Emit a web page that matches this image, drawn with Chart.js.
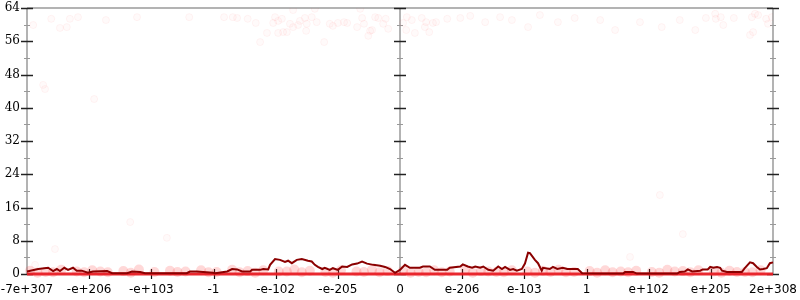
<!DOCTYPE html>
<html>
<head>
<meta charset="utf-8">
<script src="https://cdn.jsdelivr.net/npm/chart.js@4"></script>
<style>
  body { margin: 0; background: #fff; }
</style>
</head>
<body>
<canvas id="chart" width="800" height="300"></canvas>
<script>
// x positions are in "tick units": -6 .. 6, one unit per labelled tick
const xTickLabels = ['-7e+307', '-e+206', '-e+103', '-1', '-e-102', '-e-205', '0',
  'e-206', 'e-103', '1', 'e+102', 'e+205', '2e+308'];

// dark red running line
const lineX = [-6.00, -5.82, -5.66, -5.58, -5.52, -5.47, -5.40, -5.34, -5.26, -5.20, -5.12, -5.02,
  -4.94, -4.71, -4.63, -4.39, -4.31, -4.18, -4.10, -3.43, -3.38, -3.27, -3.01, -2.97, -2.78,
  -2.70, -2.62, -2.54, -2.41, -2.38, -2.25, -2.20, -2.12, -2.09, -2.01, -1.93, -1.85, -1.80,
  -1.74, -1.66, -1.58, -1.48, -1.42, -1.37, -1.32, -1.25, -1.21, -1.13, -1.08, -1.00, -0.93,
  -0.85, -0.77, -0.69, -0.61, -0.53, -0.43, -0.32, -0.24, -0.16, -0.08, 0.00, 0.08, 0.16,
  0.32, 0.37, 0.48, 0.56, 0.76, 0.80, 0.97, 1.01, 1.09, 1.16, 1.21, 1.29, 1.34, 1.42, 1.50,
  1.58, 1.64, 1.69, 1.77, 1.82, 1.88, 1.96, 2.01, 2.06, 2.09, 2.17, 2.22, 2.28, 2.30, 2.41,
  2.46, 2.53, 2.62, 2.69, 2.86, 2.93, 3.22, 3.59, 3.62, 3.75, 3.81, 4.46, 4.50, 4.58, 4.63,
  4.70, 4.83, 4.87, 4.95, 4.99, 5.04, 5.10, 5.15, 5.18, 5.26, 5.50, 5.55, 5.63, 5.68, 5.74,
  5.79, 5.84, 5.90, 5.95, 6.00];
const lineY = [0.6, 1.2, 1.5, 0.7, 1.2, 0.7, 1.5, 1.0, 1.5, 0.8, 0.8, 0.3,
  0.6, 0.7, 0.2, 0.2, 0.6, 0.5, 0.2, 0.2, 0.6, 0.6, 0.3, 0.2, 0.6,
  1.2, 1.1, 0.6, 0.6, 1.0, 1.0, 1.2, 1.1, 2.2, 3.6, 3.4, 2.9, 3.2,
  2.6, 3.4, 3.6, 3.2, 3.0, 2.2, 1.7, 1.2, 1.5, 1.0, 1.4, 1.0, 1.8,
  1.7, 2.3, 2.5, 3.0, 2.5, 2.2, 2.0, 1.7, 1.2, 0.3, 1.0, 2.2, 1.5,
  1.5, 1.8, 1.8, 1.0, 1.0, 1.5, 1.8, 2.3, 1.8, 1.5, 1.8, 1.5, 1.8, 1.0, 0.8,
  1.8, 1.2, 1.7, 1.0, 1.2, 0.8, 1.2, 2.5, 5.1, 5.0, 3.4, 2.6, 0.8, 1.5, 1.2,
  1.7, 1.2, 1.5, 1.2, 1.2, 0.2, 0.1, 0.1, 0.5, 0.5, 0.1, 0.1, 0.5, 0.6, 1.1,
  0.6, 0.8, 1.1, 1.1, 1.7, 1.5, 1.7, 1.5, 0.8, 0.5, 0.5, 1.5, 2.8, 2.6, 1.7,
  1.1, 1.2, 1.4, 2.6, 2.8];

// bright red floor line
const floorX = [-6, 6];
const floorY = [0, 0];

// faint sample points
const sampleX = [-5.90, -5.61, -5.47, -5.36, -5.31, -5.18, -4.73, -4.23, -3.39, -5.74, -5.71, -4.92,
  -2.83, -2.69, -2.62, -2.45, -2.32, -2.14, -2.04, -2.01, -1.96, -1.90, -1.96, -1.88, -1.82,
  -1.77, -1.72, -1.72, -1.64, -1.61, -1.53, -1.51, -1.50, -1.42, -1.37, -1.34, -2.25, -1.22,
  -1.13, -1.08, -1.00, -0.90, -0.85, -0.69, -0.64, -0.61, -0.58, -0.48, -0.45, -0.51, -0.40,
  -0.35, -0.27, -0.23, -0.19, 0.05, 0.11, 0.19, 0.10, 0.24, 0.35, 0.42, 0.40, 0.47, 0.53,
  0.58, 0.76, 0.97, 1.13, 1.37, 1.61, 1.80, 2.06, 2.25, 2.54, 2.81, 3.22, 3.46, 3.86, 4.21,
  4.50, 4.75, 4.92, 5.07, 5.08, 5.16, 5.20, 5.37, 5.66, 5.71, 5.76, 5.68, 5.63, 5.89, 5.92,
  5.98, -5.55, -4.34, -3.75, -5.87, 4.55, 3.70, 4.18];
const sampleY = [59.9, 61.4, 59.2, 59.4, 61.4, 61.8, 61.1, 61.8, 61.8, 45.5, 44.5, 42.1,
  61.8, 61.8, 61.6, 61.4, 60.4, 58.0, 60.4, 61.8, 60.9, 61.4, 58.0, 58.2, 58.2,
  60.2, 63.5, 59.4, 59.9, 60.9, 61.6, 58.5, 60.2, 61.8, 63.8, 60.6, 55.8, 55.8,
  60.2, 59.7, 60.4, 60.6, 60.4, 59.4, 63.8, 61.6, 60.2, 58.5, 58.7, 57.3, 61.8,
  61.6, 60.2, 61.4, 59.0, 60.4, 61.8, 61.1, 58.7, 58.0, 61.6, 60.6, 59.4, 58.2, 60.4,
  60.6, 61.4, 61.6, 62.1, 60.6, 61.8, 61.1, 59.4, 62.3, 60.6, 61.6, 61.1, 58.7, 60.6, 59.4,
  61.1, 58.7, 61.6, 62.6, 61.4, 61.8, 59.9, 61.6, 61.8, 62.6, 62.3, 58.2, 57.5, 61.4, 60.2,
  61.8, 6.0, 12.5, 8.7, 2.2, 9.6, 4.1, 19.0];

// dense low samples forming the pink band near zero
const bandX = [-5.95, -5.70, -5.45, -5.20, -4.95, -4.70, -4.45, -4.20, -3.95, -3.70, -3.45, -3.20,
  -2.95, -2.70, -2.45, -2.20, -1.95, -1.70, -1.45, -1.20, -0.95, -0.70, -0.45, -0.20, 0.05,
  0.30, 0.55, 0.80, 1.05, 1.30, 1.55, 1.80, 2.05, 2.30, 2.55, 2.80, 3.05, 3.30, 3.55, 3.80,
  4.05, 4.30, 4.55, 4.80, 5.05, 5.30, 5.55, 5.80, -5.58, -4.82, -3.58, -2.58, -1.82, -0.58,
  0.42, 1.42, 2.42, 3.42, 4.42, 5.42, -5.83, -5.08, -4.33, -3.08, -2.33, -1.58, -1.08, -0.33,
  0.17, 0.67, 1.17, 1.67, 2.17, 2.67, 3.17, 3.67, 4.17, 4.67, 5.17, 5.67];
const bandY = [0.8, 0.5, 1.0, 0.6, 0.9, 0.4, 0.7, 1.1, 0.5, 0.8, 0.6, 0.9,
  0.5, 1.0, 0.7, 0.9, 0.6, 1.1, 0.8, 0.5, 0.9, 0.6, 1.0, 0.7, 0.8,
  0.5, 0.9, 0.6, 1.0, 0.7, 0.5, 0.9, 0.6, 0.8, 1.0, 0.5, 0.7, 0.9, 0.6, 0.8,
  0.5, 1.0, 0.7, 0.9, 0.6, 0.8, 0.5, 0.9, 0.4, 0.6, 0.5, 0.4, 0.6, 0.5,
  0.4, 0.6, 0.5, 0.4, 0.6, 0.5, 0.3, 0.4, 0.3, 0.4, 0.3, 0.4, 0.3, 0.4,
  0.3, 0.4, 0.3, 0.4, 0.3, 0.4, 0.3, 0.4, 0.3, 0.4, 0.3, 0.4];

const pairs = (xs, ys) => xs.map((x, i) => ({ x: x, y: ys[i] }));

// gray frame, middle axis and crossing tick marks
const axisLines = {
  id: 'axisLines',
  beforeDatasetsDraw(chart) {
    const { ctx, chartArea: a, scales: { x, y } } = chart;
    ctx.save();
    ctx.strokeStyle = '#b3b3b3';
    ctx.lineWidth = 2;
    ctx.beginPath();
    ctx.moveTo(a.left, a.top);
    ctx.lineTo(a.right, a.top);
    [-6, 0, 6].forEach(v => {
      const px = Math.round(x.getPixelForValue(v));
      ctx.moveTo(px, a.top);
      ctx.lineTo(px, a.bottom);
    });
    ctx.stroke();

    [-6, 0, 6].forEach(v => {
      const px = Math.round(x.getPixelForValue(v));
      for (let t = 0; t <= 64; t += 4) {
        const py = Math.round(y.getPixelForValue(t)) + 0.5;
        const major = t % 8 === 0;
        ctx.strokeStyle = major ? '#222' : '#999';
        ctx.lineWidth = major ? 1.5 : 1;
        const half = major ? 6 : 3;
        ctx.beginPath();
        ctx.moveTo(px - half, py);
        ctx.lineTo(px + half, py);
        ctx.stroke();
      }
    });

    ctx.strokeStyle = '#111';
    ctx.lineWidth = 1.2;
    for (let v = -5; v <= 5; v++) {
      if (v === 0) continue;
      const px = Math.round(x.getPixelForValue(v)) + 0.5;
      ctx.beginPath();
      ctx.moveTo(px, a.bottom - 5);
      ctx.lineTo(px, a.bottom + 5);
      ctx.stroke();
    }
    ctx.restore();
  }
};

new Chart(document.getElementById('chart'), {
  type: 'scatter',
  data: {
    datasets: [
      {
        label: 'running',
        type: 'line',
        data: pairs(lineX, lineY),
        borderColor: '#8b0000',
        borderWidth: 2,
        pointRadius: 0,
        tension: 0,
        clip: 4,
        order: 0,
      },
      {
        label: 'floor',
        type: 'line',
        data: pairs(floorX, floorY),
        borderColor: 'rgba(232,28,36,0.95)',
        borderWidth: 3,
        pointRadius: 0,
        clip: 4,
        order: 1,
      },
      {
        label: 'band',
        data: pairs(bandX, bandY),
        pointRadius: 5,
        backgroundColor: 'rgba(255,60,60,0.2)',
        borderWidth: 0,
        clip: 4,
        order: 3,
      },
      {
        label: 'samples',
        data: pairs(sampleX, sampleY),
        pointRadius: 3.5,
        backgroundColor: 'rgba(255,80,80,0.03)',
        borderColor: 'rgba(255,80,80,0.06)',
        borderWidth: 1,
        order: 2,
      },
    ],
  },
  options: {
    responsive: false,
    animation: false,
    layout: { padding: { top: 8, right: 27, left: 0, bottom: 0 } },
    plugins: { legend: { display: false }, tooltip: { enabled: false } },
    scales: {
      x: {
        type: 'linear',
        min: -6,
        max: 6,
        grid: { display: false, drawTicks: false },
        border: { display: false },
        ticks: {
          stepSize: 1,
          autoSkip: false,
          maxRotation: 0,
          padding: 9,
          color: '#000',
          font: { family: 'DejaVu Sans', size: 12 },
          callback: v => xTickLabels[Math.round(v) + 6],
        },
        afterFit: s => { s.height = 26; s.paddingLeft = 0; s.paddingRight = 0; },
      },
      y: {
        min: 0,
        max: 64,
        grid: { display: false, drawTicks: false },
        border: { display: false },
        ticks: {
          stepSize: 8,
          padding: 7,
          color: '#000',
          font: { family: 'DejaVu Serif', size: 12 },
        },
        afterFit: s => { s.width = 27; s.paddingTop = 0; s.paddingBottom = 0; },
      },
    },
  },
  plugins: [axisLines],
});
</script>
</body>
</html>
